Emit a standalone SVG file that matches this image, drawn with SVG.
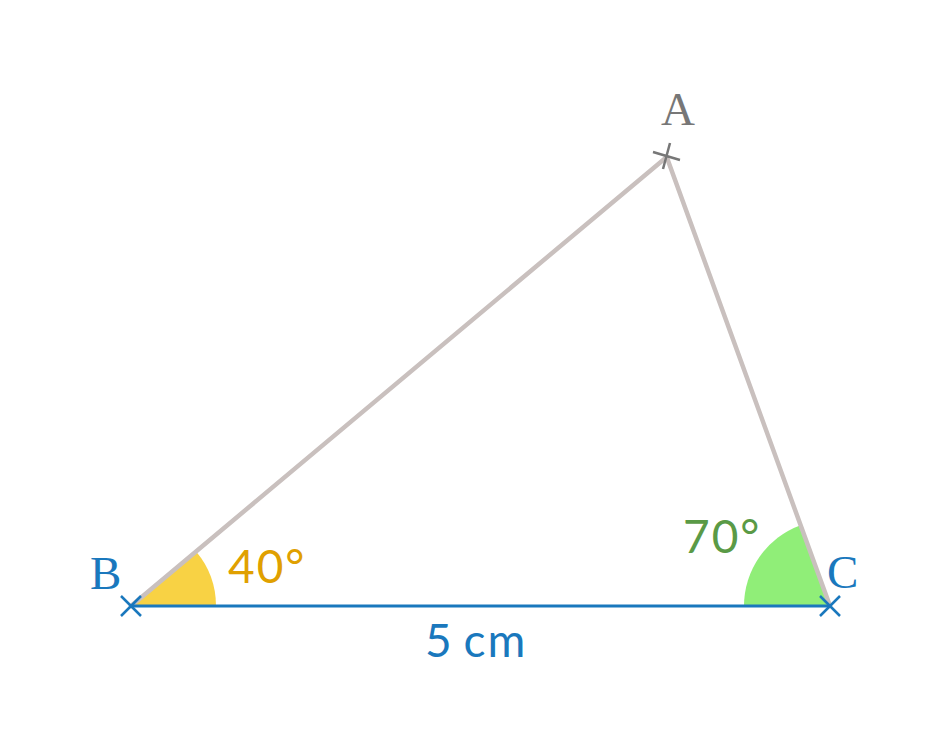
<svg xmlns="http://www.w3.org/2000/svg" width="950" height="750" viewBox="0 0 950 750">
<style>
.side{stroke:#c9c0be;stroke-width:4.5;fill:none;stroke-linecap:round}
.base{stroke:#1a78bd;stroke-width:3;fill:none}
.mark{stroke:#1a78bd;stroke-width:2.5;fill:none}
.markA{stroke:#777;stroke-width:2.5;fill:none}
.pt{font-family:"Liberation Serif","Times New Roman",serif;font-size:47px}
.ang{font-family:Lato,"Open Sans",sans-serif;font-size:46px;letter-spacing:2px}
</style>
<rect width="950" height="750" fill="#fff"/>
<g id="angles">
<path d="M131,606 L216,606 A85,85 0 0 0 196.1,551.4 Z" fill="#f8d244"/>
<path d="M830,606 L744,606 A86,86 0 0 1 800.6,525.2 Z" fill="#90ee78"/>
</g>
<g id="connectors">
<line class="side" x1="131" y1="606" x2="666.7" y2="157"/>
<line class="side" x1="830" y1="606" x2="666.7" y2="157"/>
<line class="base" x1="131" y1="606" x2="830" y2="606"/>
</g>
<g id="node-B">
<path class="mark" d="M121,596 L141,616 M121,616 L141,596"/>
<text class="pt" x="90" y="589" fill="#1a78bd">B</text>
</g>
<g id="node-C">
<path class="mark" d="M820,596 L840,616 M820,616 L840,596"/>
<text class="pt" x="827" y="588" fill="#1a78bd">C</text>
</g>
<g id="node-A">
<path class="markA" d="M653,152 L680,160 M670,143 L663,169"/>
<text class="pt" x="661" y="125" fill="#777">A</text>
</g>
<g id="labels">
<text class="ang" x="228" y="583" fill="#e0a000">40°</text>
<text class="ang" x="683" y="553" fill="#5a9a46">70°</text>
<text class="ang" x="425" y="657" fill="#1a78bd" letter-spacing="0" font-size="44" word-spacing="-4">5 cm</text>
</g>
</svg>
